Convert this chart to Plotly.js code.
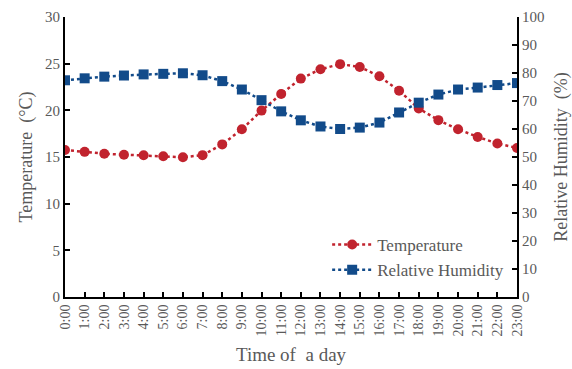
<!DOCTYPE html>
<html>
<head>
<meta charset="utf-8">
<script src="https://cdn.plot.ly/plotly-3.0.1.min.js"></script>
<style>html,body{margin:0;padding:0;background:#fff;}#chart{width:572px;height:369px;}</style>
</head>
<body>
<div id="chart"></div>
<script>
const hours = ["0:00","1:00","2:00","3:00","4:00","5:00","6:00","7:00","8:00","9:00","10:00","11:00","12:00","13:00","14:00","15:00","16:00","17:00","18:00","19:00","20:00","21:00","22:00","23:00"];
const temperature = [15.75,15.55,15.35,15.25,15.18,15.08,14.97,15.2,16.35,17.97,19.97,21.75,23.4,24.4,24.95,24.65,23.65,22.1,20.2,18.95,17.97,17.15,16.45,15.97];
const humidity = [77.4,78.1,78.7,79.1,79.5,79.7,79.9,79.2,77.1,74.1,70.3,66.3,63.1,60.9,60.0,60.5,62.3,65.9,69.4,72.3,74.1,74.8,75.7,76.4];

const red = '#C1232E';
const blue = '#124B8A';
const gray = '#595959';
const fontFam = '"Liberation Serif", "Times New Roman", serif';

const traces = [
  {x: hours, y: temperature, name: 'Temperature', type: 'scatter', mode: 'lines+markers',
   line: {color: red, dash: 'dot', width: 2.5}, marker: {color: red, symbol: 'circle', size: 10}, yaxis: 'y'},
  {x: hours, y: humidity, name: 'Relative Humidity', type: 'scatter', mode: 'lines+markers',
   line: {color: blue, dash: 'dot', width: 2.5}, marker: {color: blue, symbol: 'square', size: 10}, yaxis: 'y2'}
];

const layout = {
  width: 572, height: 369,
  margin: {l: 65, r: 55, t: 17, b: 72},
  paper_bgcolor: '#fff', plot_bgcolor: '#fff',
  font: {family: fontFam, color: gray, size: 14},
  showlegend: true,
  legend: {x: 0.58, y: 0.25, xanchor: 'left', yanchor: 'top', bgcolor: 'rgba(0,0,0,0)',
           font: {family: fontFam, size: 17, color: gray}, tracegroupgap: 7, itemwidth: 40},
  xaxis: {type: 'category', range: [0, 23], showgrid: false, zeroline: false,
          showline: true, linecolor: '#000', linewidth: 2,
          ticks: 'inside', ticklen: 5, tickwidth: 2, tickcolor: '#000',
          tickangle: -90, tickfont: {family: fontFam, size: 14, color: gray},
          title: {text: 'Time of  a day', font: {family: fontFam, size: 19, color: gray}, standoff: 12}},
  yaxis: {range: [0, 30], dtick: 5, showgrid: false, zeroline: false,
          showline: true, linecolor: '#000', linewidth: 2,
          ticks: 'inside', ticklen: 5, tickwidth: 2, tickcolor: '#000',
          tickfont: {family: fontFam, size: 15, color: gray},
          title: {text: 'Temperature  (°C)', font: {family: fontFam, size: 18, color: gray}, standoff: 8}},
  yaxis2: {range: [0, 100], dtick: 10, overlaying: 'y', side: 'right', showgrid: false, zeroline: false,
           showline: true, linecolor: '#000', linewidth: 2,
           ticks: 'inside', ticklen: 5, tickwidth: 2, tickcolor: '#000',
           tickfont: {family: fontFam, size: 15, color: gray},
           title: {text: 'Relative Humidity  (%)', font: {family: fontFam, size: 18, color: gray}, standoff: 13}}
};

Plotly.newPlot('chart', traces, layout, {displayModeBar: false, staticPlot: true});
</script>
</body>
</html>
